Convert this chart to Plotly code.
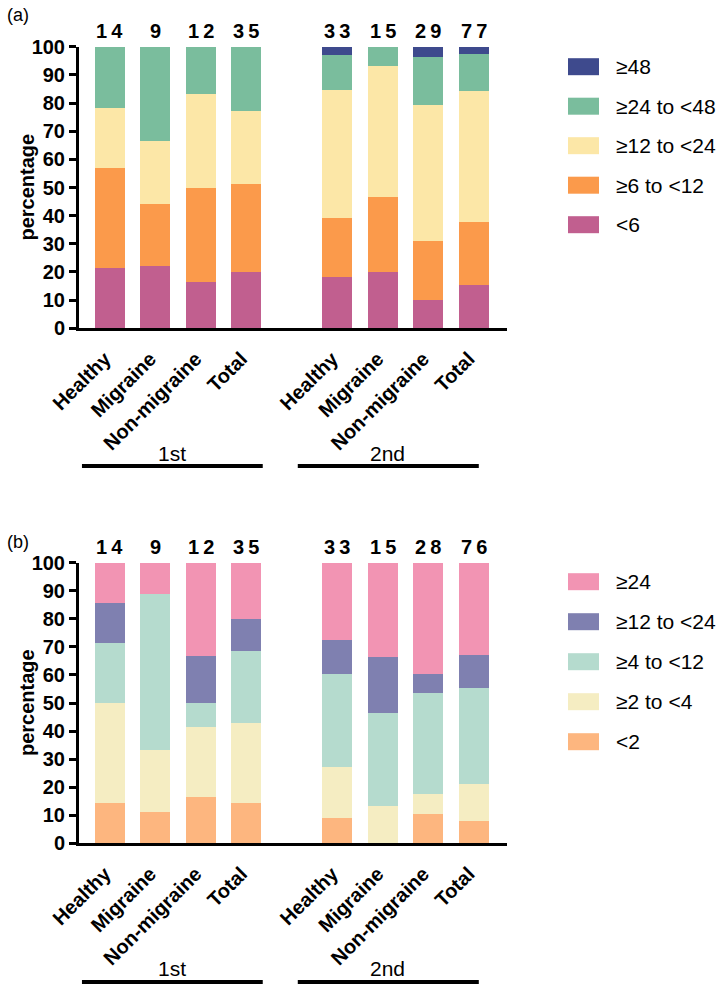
import plotly.graph_objects as go

W, H = 724, 988

categories = ["Healthy", "Migraine", "Non-migraine", "Total"]
groups = ["1st", "2nd"]

# Panel (a) percentages, bottom -> top
a_names = ["<6", "≥6 to <12", "≥12 to <24", "≥24 to <48", "≥48"]
a_lt6 = [21.4, 22.2, 16.7, 20.0, 18.2, 20.0, 10.3, 15.6]
a_6to12 = [35.7, 22.2, 33.3, 31.4, 21.2, 26.7, 20.7, 22.1]
a_12to24 = [21.4, 22.2, 33.3, 25.7, 45.5, 46.7, 48.3, 46.8]
a_24to48 = [21.4, 33.3, 16.7, 22.9, 12.1, 6.7, 17.2, 13.0]
a_ge48 = [0, 0, 0, 0, 3.0, 0, 3.4, 2.6]
a_n = [14, 9, 12, 35, 33, 15, 29, 77]
a_colors = ["#C15F8F", "#FB9A4B", "#FCE7A7", "#7ABD9D", "#3E4A8D"]

# Panel (b) percentages, bottom -> top
b_names = ["<2", "≥2 to <4", "≥4 to <12", "≥12 to <24", "≥24"]
b_lt2 = [14.3, 11.1, 16.7, 14.3, 9.1, 0, 10.7, 7.9]
b_2to4 = [35.7, 22.2, 25.0, 28.6, 18.2, 13.3, 7.1, 13.2]
b_4to12 = [21.4, 55.6, 8.3, 25.7, 33.3, 33.3, 35.7, 34.2]
b_12to24 = [14.3, 0, 16.7, 11.4, 12.1, 20.0, 7.1, 11.8]
b_ge24 = [14.3, 11.1, 33.3, 20.0, 27.3, 33.3, 39.3, 32.9]
b_n = [14, 9, 12, 35, 33, 15, 28, 76]
b_colors = ["#FDB67F", "#F5EDC2", "#B5DBCE", "#7F80B0", "#F294B3"]

y_ticks = list(range(0, 101, 10))

FONT = "Arial, Liberation Sans, sans-serif"

positions = [g * (len(categories) + 1) + i for g in range(len(groups)) for i in range(len(categories))]
ticktext = categories * len(groups)

fig = go.Figure()

panels = [
    dict(series=[a_lt6, a_6to12, a_12to24, a_24to48, a_ge48], names=a_names, colors=a_colors,
         n=a_n, xa="x", ya="y", top_px=46.7, bot_px=328.3, label="(a)", label_px=15,
         leg_rows=[66.7, 106.2, 145.7, 185.2, 224.7], grp_line_px=466, grp_text_px=453),
    dict(series=[b_lt2, b_2to4, b_4to12, b_12to24, b_ge24], names=b_names, colors=b_colors,
         n=b_n, xa="x2", ya="y2", top_px=562.7, bot_px=843.3, label="(b)", label_px=542,
         leg_rows=[581.7, 621.7, 661.7, 701.7, 741.7], grp_line_px=982, grp_text_px=968),
]

x_dom = [79 / W, 507 / W]
shapes = []
annotations = []

for p in panels:
    for vals, name, col in zip(p["series"], p["names"], p["colors"]):
        fig.add_trace(go.Bar(x=positions, y=vals, name=name, marker_color=col,
                             marker_line_width=0, width=0.66, xaxis=p["xa"], yaxis=p["ya"],
                             showlegend=False))
    xref = p["xa"]
    yref = p["ya"]
    # n labels above bars
    for xp, nv in zip(positions, p["n"]):
        annotations.append(dict(x=xp, y=100, xref=xref, yref=yref, text="<b>" + "\u2009".join(str(nv)) + "</b>",
                                showarrow=False, yanchor="bottom", yshift=3,
                                font=dict(family=FONT, size=20, color="black")))
    # panel label
    annotations.append(dict(x=5 / W, y=1 - p["label_px"] / H, xref="paper", yref="paper", text=p["label"],
                            showarrow=False, xanchor="left", yanchor="middle",
                            font=dict(family=FONT, size=18, color="black")))
    # y title
    annotations.append(dict(x=27 / W, y=1 - (p["top_px"] + p["bot_px"]) / 2 / H, xref="paper", yref="paper",
                            text="<b>percentage</b>", textangle=-90, showarrow=False,
                            xanchor="center", yanchor="middle",
                            font=dict(family=FONT, size=20, color="black")))
    # group lines + labels
    for g, (x0, x1, xc) in zip(groups, [(-0.615, 3.36, 1.36), (4.13, 8.11, 6.1)]):
        shapes.append(dict(type="line", xref=xref, yref="paper", x0=x0, x1=x1,
                           y0=1 - p["grp_line_px"] / H, y1=1 - p["grp_line_px"] / H,
                           line=dict(color="black", width=4)))
        annotations.append(dict(x=xc, y=1 - p["grp_text_px"] / H, xref=xref, yref="paper", text=g,
                                showarrow=False, yanchor="middle",
                                font=dict(family=FONT, size=21, color="black")))
    # legend (top to bottom reversed order)
    for row_px, name, col in zip(p["leg_rows"], p["names"][::-1], p["colors"][::-1]):
        yc = 1 - row_px / H
        shapes.append(dict(type="rect", xref="paper", yref="paper", x0=568 / W, x1=599 / W,
                           y0=yc - 8.5 / H, y1=yc + 8.5 / H, fillcolor=col, line=dict(width=0)))
        annotations.append(dict(x=614 / W, y=yc, xref="paper", yref="paper", text=name.replace("<", "&lt;"),
                                showarrow=False, xanchor="left", yanchor="middle",
                                font=dict(family=FONT, size=21, color="black")))

def xaxis(anchor):
    return dict(domain=x_dom, range=[-0.68, 8.73], tickvals=positions, ticktext=ticktext,
                tickangle=-45, showline=True, linewidth=3, linecolor="black", ticks="",
                showgrid=False, zeroline=False, anchor=anchor, automargin=False, fixedrange=True,
                ticklabelstandoff=8, ticklabelshift=-5,
                tickfont=dict(family=FONT, size=20, color="black", weight="bold"))

def yaxis(anchor, top_px, bot_px):
    return dict(domain=[1 - bot_px / H, 1 - top_px / H], range=[0, 100], tickvals=y_ticks,
                ticks="outside", ticklen=7, tickwidth=3, tickcolor="black",
                showline=True, linewidth=3, linecolor="black", showgrid=False, zeroline=False,
                anchor=anchor, automargin=False, fixedrange=True,
                tickfont=dict(family=FONT, size=20, color="black", weight="bold"))

fig.update_layout(
    width=W, height=H, barmode="stack", bargap=0,
    margin=dict(l=0, r=0, t=0, b=0),
    paper_bgcolor="white", plot_bgcolor="white",
    xaxis=xaxis("y"), yaxis=yaxis("x", panels[0]["top_px"], panels[0]["bot_px"]),
    xaxis2=xaxis("y2"), yaxis2=yaxis("x2", panels[1]["top_px"], panels[1]["bot_px"]),
    shapes=shapes, annotations=annotations, showlegend=False,
)

fig.write_html("out.html", config={"displayModeBar": False},
               post_script="document.body.style.margin='0';document.body.style.overflow='hidden';")
